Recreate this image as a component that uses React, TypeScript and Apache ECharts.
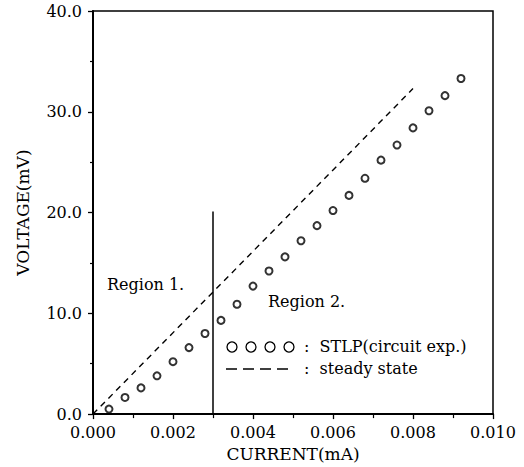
import React, { useEffect, useRef } from "react";
import * as echarts from "echarts";

const currentMA = [0.0004, 0.0008, 0.0012, 0.0016, 0.002, 0.0024, 0.0028, 0.0032, 0.0036, 0.004, 0.0044, 0.0048, 0.0052, 0.0056, 0.006, 0.0064, 0.0068, 0.0072, 0.0076, 0.008, 0.0084, 0.0088, 0.0092];
const stlpVoltage = [0.5, 1.65, 2.6, 3.8, 5.2, 6.6, 8.0, 9.3, 10.9, 12.7, 14.2, 15.6, 17.2, 18.7, 20.2, 21.7, 23.4, 25.2, 26.7, 28.4, 30.1, 31.6, 33.3];
const steadyX = [0, 0.008];
const steadyY = [0, 32.3];
const boundaryX = [0.003, 0.003];
const boundaryY = [0, 20.1];

const FONT = "DejaVu Serif";

export default function App() {
  const ref = useRef<HTMLDivElement>(null);
  useEffect(() => {
    if (!ref.current) return;
    const chart = echarts.init(ref.current, null, { renderer: "svg" });
    const black = "#000";
    const legendCircles = [232, 251, 270, 289].map((x) => ({
      type: "circle",
      shape: { cx: x, cy: 347, r: 5 },
      style: { fill: "#fff", stroke: black, lineWidth: 1.3 },
    }));
    chart.setOption({
      animation: false,
      backgroundColor: "#fff",
      grid: { left: 93, right: 31, top: 11, bottom: 50, show: true, borderColor: black, borderWidth: 1.5 },
      xAxis: {
        type: "value",
        min: 0,
        max: 0.01,
        interval: 0.002,
        name: "CURRENT(mA)",
        nameLocation: "middle",
        nameGap: 30,
        nameTextStyle: { fontFamily: FONT, fontSize: 17, color: black },
        axisLine: { lineStyle: { color: black, width: 2 } },
        axisTick: { inside: false, length: 5, lineStyle: { color: black, width: 1.3 } },
        minorTick: { show: true, splitNumber: 2, length: 4, lineStyle: { color: black, width: 1.2 } },
        splitLine: { show: false },
        axisLabel: { fontFamily: FONT, fontSize: 16, color: black, margin: 10, formatter: (v: number) => v.toFixed(3) },
      },
      yAxis: {
        type: "value",
        min: 0,
        max: 40,
        interval: 10,
        name: "VOLTAGE(mV)",
        nameLocation: "middle",
        nameGap: 62,
        nameRotate: 90,
        nameTextStyle: { fontFamily: FONT, fontSize: 17, color: black },
        axisLine: { lineStyle: { color: black, width: 2 } },
        axisTick: { inside: false, length: 5, lineStyle: { color: black, width: 1.3 } },
        minorTick: { show: true, splitNumber: 2, length: 3, lineStyle: { color: black, width: 1.2 } },
        splitLine: { show: false },
        axisLabel: { fontFamily: FONT, fontSize: 16, color: black, margin: 11, formatter: (v: number) => v.toFixed(1) },
      },
      series: [
        {
          type: "scatter",
          name: "STLP(circuit exp.)",
          symbol: "emptyCircle",
          symbolSize: 7,
          itemStyle: { color: black, borderColor: black, borderWidth: 1.5 },
          data: currentMA.map((x, i) => [x, stlpVoltage[i]]),
          z: 3,
        },
        {
          type: "line",
          name: "steady state",
          symbol: "none",
          lineStyle: { color: black, width: 1.4, type: [6, 5] },
          data: steadyX.map((x, i) => [x, steadyY[i]]),
        },
        {
          type: "line",
          name: "boundary",
          symbol: "none",
          lineStyle: { color: black, width: 1.5 },
          data: boundaryX.map((x, i) => [x, boundaryY[i]]),
        },
      ],
      graphic: [
        { type: "text", left: 107, top: 276, style: { text: "Region 1.", fontFamily: FONT, fontSize: 16, fill: black } },
        { type: "text", left: 268, top: 293, style: { text: "Region 2.", fontFamily: FONT, fontSize: 16, fill: black } },
        ...legendCircles,
        { type: "text", left: 304, top: 338, style: { text: ":  STLP(circuit exp.)", fontFamily: FONT, fontSize: 16, fill: black } },
        {
          type: "line",
          shape: { x1: 226, y1: 369, x2: 294, y2: 369 },
          style: { stroke: black, lineWidth: 1.3, lineDash: [11, 6] },
        },
        { type: "text", left: 304, top: 360, style: { text: ":  steady state", fontFamily: FONT, fontSize: 16, fill: black } },
      ],
    });
    return () => chart.dispose();
  }, []);
  return <div ref={ref} style={{ width: 524, height: 467, position: "absolute", left: 0, top: 0 }} />;
}
